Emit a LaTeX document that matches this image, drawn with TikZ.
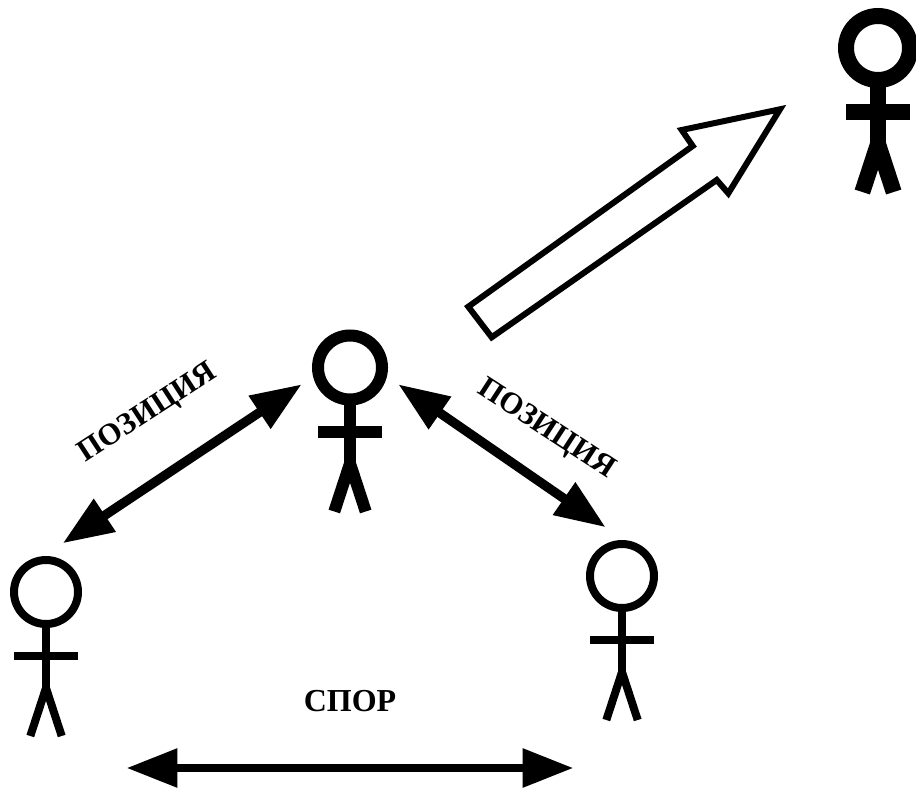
\documentclass[tikz,border=0pt]{standalone}
\usepackage{fontspec}
\setmainfont{Liberation Serif}
\usetikzlibrary{arrows.meta}
\tikzset{
 lbl/.style={font=\bfseries\fontsize{24}{28}\selectfont,inner sep=0pt},
 lblrot/.style={font=\bfseries\fontsize{23}{27}\selectfont,inner sep=0pt},
 dbl/.style={draw=black,line width=#1,{Triangle[length=38pt,width=28pt]}-{Triangle[length=38pt,width=28pt]}},
 hollow/.style={draw=black,line width=4.5pt,fill=white,line join=miter,miter limit=10},
 stickman/.pic={
  \draw[line width=\pgfkeysvalueof{/tikz/manlw}] (0,0) circle (32);
  \draw[line width=\pgfkeysvalueof{/tikz/manlw}] (0,32) -- (0,102);
  \draw[line width=\pgfkeysvalueof{/tikz/manlw}] (-32,64) -- (32,64);
  \draw[line width=\pgfkeysvalueof{/tikz/manlw}] (0,96) -- (-15.7,144);
  \draw[line width=\pgfkeysvalueof{/tikz/manlw}] (0,96) -- (15.7,144);
 },
 manlw/.initial=6pt
}
\begin{document}
\begin{tikzpicture}[x=0.75pt,y=-0.75pt]
\useasboundingbox (0,0) rectangle (916,788);
% persons
\pic[manlw=12pt] at (878,48) {stickman};
\pic[manlw=9pt] at (350,367.5) {stickman};
\pic[manlw=6pt] at (46,592) {stickman};
\pic[manlw=6pt] at (622,576) {stickman};
% double arrows
\coordinate (a1) at (62.7,543.3); \coordinate (a2) at (301.7,384.3);
\draw[dbl=7pt] (a1) -- (a2);
\coordinate (b1) at (398.3,384.3); \coordinate (b2) at (605.7,527.3);
\draw[dbl=7pt] (b1) -- (b2);
\coordinate (c1) at (126.7,768); \coordinate (c2) at (573.3,768);
\draw[dbl=6pt] (c1) -- (c2);
% hollow arrow
\draw[hollow] (468.3,306.7) -- (692.7,146) -- (681.7,130) -- (780,109.3) -- (728.3,193.3) -- (716.7,180) -- (491.7,337.3) -- cycle;
% labels
\node[lblrot,rotate=33] (p1) at (148,414) {ПОЗИЦИЯ};
\node[lblrot,rotate=-33] (p2) at (546,429.5) {ПОЗИЦИЯ};
\node[lbl] (s) at (350,700.7) {СПОР};
\end{tikzpicture}
\end{document}
